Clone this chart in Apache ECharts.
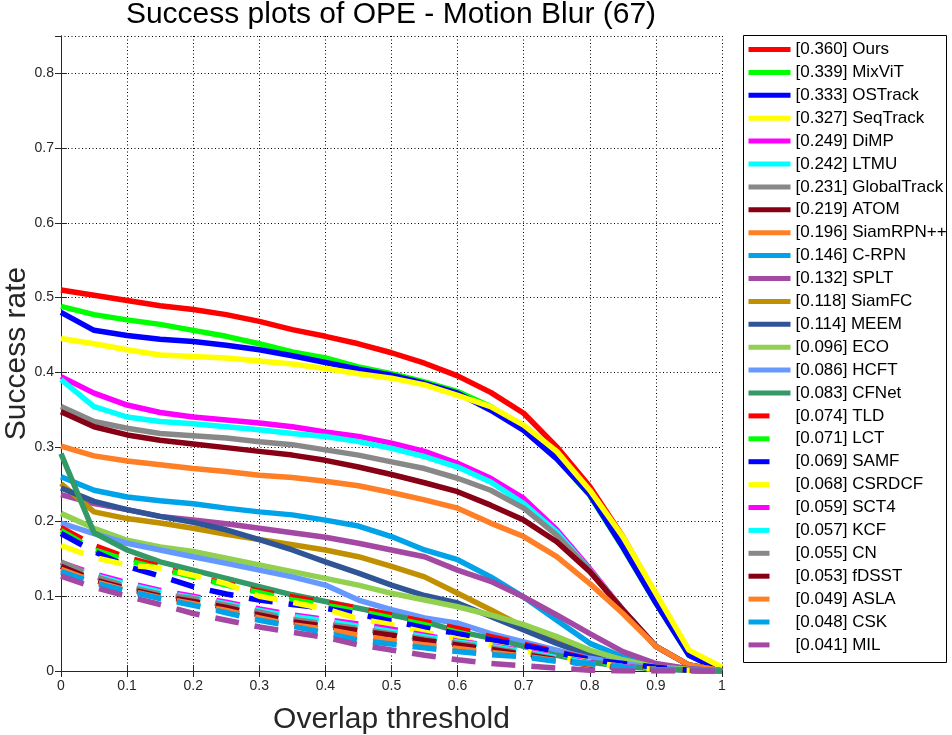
<!DOCTYPE html>
<html lang="en">
<head>
<meta charset="UTF-8">
<title>Success plots of OPE - Motion Blur (67)</title>
<script src="https://cdn.jsdelivr.net/npm/echarts@6/dist/echarts.min.js"></script>
<style>
    html, body, #main {
        width: 100%;
        height: 100%;
        margin: 0;
        background: #fff;
    }
</style>
</head>
<body>
<div id="main"></div>
<script>
// overlap thresholds on the x axis
var thresholds = [0, 0.05, 0.1, 0.15, 0.2, 0.25, 0.3, 0.35, 0.4, 0.45, 0.5,
                  0.55, 0.6, 0.65, 0.7, 0.75, 0.8, 0.85, 0.9, 0.95, 1];

// tracker names and AUC scores, in legend order
var trackers = ['Ours', 'MixViT', 'OSTrack', 'SeqTrack', 'DiMP', 'LTMU', 'GlobalTrack', 'ATOM',
                'SiamRPN++', 'C-RPN', 'SPLT', 'SiamFC', 'MEEM', 'ECO', 'HCFT', 'CFNet',
                'TLD', 'LCT', 'SAMF', 'CSRDCF', 'SCT4', 'KCF', 'CN', 'fDSST', 'ASLA', 'CSK', 'MIL'];
var aucScores = ['0.360', '0.339', '0.333', '0.327', '0.249', '0.242', '0.231', '0.219',
                 '0.196', '0.146', '0.132', '0.118', '0.114', '0.096', '0.086', '0.083',
                 '0.074', '0.071', '0.069', '0.068', '0.059', '0.057', '0.055', '0.053', '0.049', '0.048', '0.041'];

// success rate per threshold
var ours        = [0.510, 0.503, 0.496, 0.489, 0.484, 0.477, 0.468, 0.457, 0.448, 0.438, 0.426, 0.412, 0.395, 0.373, 0.345, 0.300, 0.247, 0.180, 0.102, 0.025, 0.000];
var mixvit      = [0.488, 0.477, 0.470, 0.464, 0.456, 0.448, 0.438, 0.427, 0.419, 0.407, 0.398, 0.387, 0.374, 0.354, 0.323, 0.285, 0.235, 0.165, 0.091, 0.021, 0.000];
var ostrack     = [0.480, 0.456, 0.449, 0.444, 0.441, 0.436, 0.430, 0.422, 0.413, 0.404, 0.396, 0.385, 0.372, 0.349, 0.322, 0.284, 0.236, 0.166, 0.091, 0.021, 0.000];
var seqtrack    = [0.445, 0.438, 0.430, 0.423, 0.421, 0.419, 0.415, 0.411, 0.405, 0.398, 0.392, 0.383, 0.369, 0.354, 0.329, 0.294, 0.242, 0.180, 0.104, 0.028, 0.005];
var dimp        = [0.394, 0.372, 0.356, 0.346, 0.340, 0.336, 0.332, 0.327, 0.320, 0.314, 0.305, 0.294, 0.278, 0.258, 0.231, 0.189, 0.137, 0.082, 0.033, 0.008, 0.000];
var ltmu        = [0.390, 0.354, 0.340, 0.334, 0.331, 0.327, 0.323, 0.318, 0.314, 0.307, 0.298, 0.287, 0.273, 0.253, 0.224, 0.186, 0.135, 0.082, 0.033, 0.008, 0.000];
var globaltrack = [0.354, 0.334, 0.325, 0.318, 0.315, 0.312, 0.307, 0.303, 0.296, 0.289, 0.280, 0.271, 0.258, 0.242, 0.218, 0.182, 0.135, 0.082, 0.033, 0.008, 0.000];
var atom        = [0.347, 0.327, 0.316, 0.309, 0.304, 0.299, 0.294, 0.289, 0.282, 0.273, 0.263, 0.252, 0.240, 0.222, 0.202, 0.173, 0.133, 0.082, 0.033, 0.008, 0.000];
var siamrpnpp   = [0.301, 0.288, 0.281, 0.276, 0.271, 0.267, 0.262, 0.259, 0.254, 0.248, 0.239, 0.229, 0.218, 0.198, 0.180, 0.153, 0.117, 0.077, 0.033, 0.008, 0.000];
var crpn        = [0.260, 0.242, 0.233, 0.228, 0.224, 0.218, 0.213, 0.209, 0.202, 0.194, 0.180, 0.162, 0.149, 0.126, 0.099, 0.068, 0.037, 0.019, 0.008, 0.003, 0.000];
var splt        = [0.236, 0.224, 0.216, 0.207, 0.202, 0.197, 0.191, 0.185, 0.179, 0.171, 0.162, 0.153, 0.135, 0.120, 0.099, 0.075, 0.050, 0.026, 0.010, 0.003, 0.000];
var siamfc      = [0.251, 0.213, 0.204, 0.198, 0.191, 0.183, 0.176, 0.169, 0.162, 0.153, 0.140, 0.126, 0.104, 0.082, 0.059, 0.041, 0.024, 0.011, 0.005, 0.002, 0.000];
var meem        = [0.245, 0.227, 0.216, 0.207, 0.199, 0.189, 0.176, 0.162, 0.146, 0.131, 0.115, 0.101, 0.091, 0.073, 0.055, 0.037, 0.021, 0.010, 0.004, 0.001, 0.000];
var eco         = [0.211, 0.191, 0.175, 0.166, 0.160, 0.151, 0.142, 0.133, 0.124, 0.115, 0.104, 0.095, 0.086, 0.075, 0.062, 0.046, 0.028, 0.015, 0.005, 0.002, 0.000];
var hcft        = [0.198, 0.184, 0.171, 0.162, 0.153, 0.144, 0.135, 0.126, 0.115, 0.095, 0.082, 0.071, 0.064, 0.050, 0.039, 0.028, 0.017, 0.010, 0.004, 0.001, 0.000];
var cfnet       = [0.291, 0.185, 0.162, 0.146, 0.135, 0.124, 0.113, 0.102, 0.093, 0.084, 0.075, 0.066, 0.053, 0.044, 0.033, 0.021, 0.012, 0.006, 0.003, 0.001, 0.000];
var tld         = [0.192, 0.168, 0.152, 0.140, 0.126, 0.117, 0.107, 0.099, 0.092, 0.084, 0.075, 0.066, 0.057, 0.046, 0.036, 0.026, 0.016, 0.008, 0.003, 0.001, 0.000];
var lct         = [0.188, 0.162, 0.148, 0.137, 0.126, 0.115, 0.105, 0.095, 0.088, 0.080, 0.071, 0.062, 0.052, 0.042, 0.033, 0.023, 0.014, 0.007, 0.003, 0.001, 0.000];
var samf        = [0.184, 0.160, 0.140, 0.127, 0.113, 0.103, 0.095, 0.089, 0.084, 0.076, 0.067, 0.058, 0.050, 0.042, 0.034, 0.025, 0.015, 0.010, 0.005, 0.001, 0.000];
var csrdcf      = [0.168, 0.152, 0.142, 0.138, 0.128, 0.117, 0.100, 0.092, 0.083, 0.070, 0.062, 0.052, 0.043, 0.035, 0.027, 0.019, 0.012, 0.006, 0.002, 0.001, 0.000];
var sct4        = [0.145, 0.130, 0.118, 0.108, 0.100, 0.092, 0.083, 0.075, 0.069, 0.063, 0.056, 0.048, 0.040, 0.034, 0.027, 0.019, 0.011, 0.006, 0.002, 0.001, 0.000];
var kcf         = [0.142, 0.128, 0.116, 0.106, 0.098, 0.090, 0.081, 0.073, 0.067, 0.060, 0.053, 0.046, 0.039, 0.033, 0.026, 0.018, 0.010, 0.005, 0.002, 0.001, 0.000];
var cn          = [0.146, 0.127, 0.113, 0.103, 0.097, 0.088, 0.079, 0.069, 0.063, 0.057, 0.050, 0.043, 0.037, 0.031, 0.024, 0.016, 0.009, 0.004, 0.002, 0.001, 0.000];
var fdsst       = [0.140, 0.122, 0.110, 0.100, 0.093, 0.085, 0.075, 0.066, 0.060, 0.054, 0.048, 0.041, 0.035, 0.029, 0.022, 0.015, 0.008, 0.004, 0.002, 0.001, 0.000];
var asla        = [0.136, 0.120, 0.108, 0.098, 0.090, 0.081, 0.071, 0.062, 0.056, 0.048, 0.041, 0.035, 0.030, 0.025, 0.020, 0.014, 0.009, 0.004, 0.002, 0.001, 0.000];
var csk         = [0.133, 0.118, 0.107, 0.097, 0.088, 0.078, 0.068, 0.060, 0.051, 0.041, 0.036, 0.031, 0.026, 0.022, 0.019, 0.013, 0.010, 0.005, 0.002, 0.001, 0.000];
var mil         = [0.127, 0.112, 0.100, 0.089, 0.077, 0.068, 0.059, 0.052, 0.045, 0.035, 0.028, 0.021, 0.015, 0.010, 0.007, 0.004, 0.001, 0.000, 0.000, 0.000, 0.000];

var curves = [ours, mixvit, ostrack, seqtrack, dimp, ltmu, globaltrack, atom, siamrpnpp, crpn,
              splt, siamfc, meem, eco, hcft, cfnet, tld, lct, samf, csrdcf, sct4, kcf, cn,
              fdsst, asla, csk, mil];

// line colours (the last 11 trackers reuse the first ones with a dashed line)
var colors = ['#ff0000', '#00ff00', '#0000ff', '#ffff00', '#ff00ff', '#00ffff', '#888888', '#880015',
              '#ff7f27', '#00a2e8', '#a349a4', '#c09000', '#2f5597', '#92d050', '#6699ff', '#339966'];
var nSolid = 16;

var font = '"Liberation Sans", Arial, Helvetica, sans-serif';
var chart = echarts.init(document.getElementById('main'));

var series = [];
var legendData = [];
for (var i = 0; i < trackers.length; i++) {
    var label = '[' + aucScores[i] + '] ' + trackers[i];
    var dashed = i >= nSolid;
    var color = colors[dashed ? i - nSolid : i];
    series.push({
        name: label,
        type: 'line',
        symbol: 'none',
        silent: true,
        data: thresholds.map(function (t, j) { return [t, this[j]]; }, curves[i]),
        lineStyle: { color: color, width: 5.5, type: dashed ? [24, 16] : 'solid', cap: 'butt' },
        itemStyle: { color: color }
    });
    legendData.push(dashed
        ? { name: label, lineStyle: { type: [21, 60], width: 5, color: color } }
        : { name: label, lineStyle: { type: 'solid', width: 5, color: color } });
}

var dotted = { color: '#000', width: 1, type: [1, 2.5] };
var axisCol = '#262626';

chart.setOption({
    animation: false,
    backgroundColor: '#fff',
    grid: { left: 61, right: 230, top: 36, bottom: 64, outerBoundsMode: 'none', containLabel: false },
    graphic: [
        {   // legend frame
            type: 'rect', left: 743, top: 35, z: 0,
            shape: { width: 203, height: 627 },
            style: { fill: '#fff', stroke: '#000', lineWidth: 1 }
        },
        {   // title
            type: 'text', x: 391, y: 15, z: 10,
            style: {
                text: 'Success plots of OPE - Motion Blur (67)',
                font: '30px ' + font, fill: '#000',
                align: 'center', verticalAlign: 'middle'
            }
        }
    ],
    legend: {
        orient: 'vertical', left: 746, top: 41, padding: 0,
        itemWidth: 42, itemHeight: 14, itemGap: 5.9,
        selectedMode: false,
        itemStyle: { opacity: 0 },
        lineStyle: { width: 5 },
        textStyle: { fontFamily: font, fontSize: 17, color: '#000', lineHeight: 17 },
        data: legendData
    },
    xAxis: [{
        type: 'value', min: 0, max: 1, interval: 0.1, position: 'bottom',
        name: 'Overlap threshold', nameLocation: 'middle', nameGap: 34,
        nameTextStyle: { fontFamily: font, fontSize: 30, color: axisCol },
        axisLine: { show: true, lineStyle: { color: axisCol, width: 1 } },
        axisTick: { show: true, inside: true, length: 6, lineStyle: { color: axisCol } },
        axisLabel: { fontFamily: font, fontSize: 14, color: axisCol, margin: 8 },
        splitLine: { show: true, lineStyle: dotted }
    }, {
        type: 'value', min: 0, max: 1, interval: 0.1, position: 'top',
        axisLine: { show: true, lineStyle: { color: axisCol, width: 1 } },
        axisTick: { show: true, inside: true, length: 6, lineStyle: { color: axisCol } },
        axisLabel: { show: false },
        splitLine: { show: false }
    }],
    yAxis: [{
        type: 'value', min: 0, max: 0.85, interval: 0.1, position: 'left',
        name: 'Success rate', nameLocation: 'middle', nameGap: 29, nameMoveOverlap: false,
        nameTextStyle: { fontFamily: font, fontSize: 30, color: axisCol },
        axisLine: { show: true, lineStyle: { color: axisCol, width: 1 } },
        axisTick: { show: true, inside: true, length: 6, lineStyle: { color: axisCol } },
        axisLabel: { fontFamily: font, fontSize: 14, color: axisCol, margin: 7, showMaxLabel: false },
        splitLine: { show: true, lineStyle: dotted }
    }, {
        type: 'value', min: 0, max: 0.85, interval: 0.1, position: 'right',
        axisLine: { show: true, lineStyle: { color: axisCol, width: 1 } },
        axisTick: { show: true, inside: true, length: 6, lineStyle: { color: axisCol } },
        axisLabel: { show: false },
        splitLine: { show: false }
    }],
    series: series
});

window.onresize = chart.resize;
</script>
</body>
</html>
